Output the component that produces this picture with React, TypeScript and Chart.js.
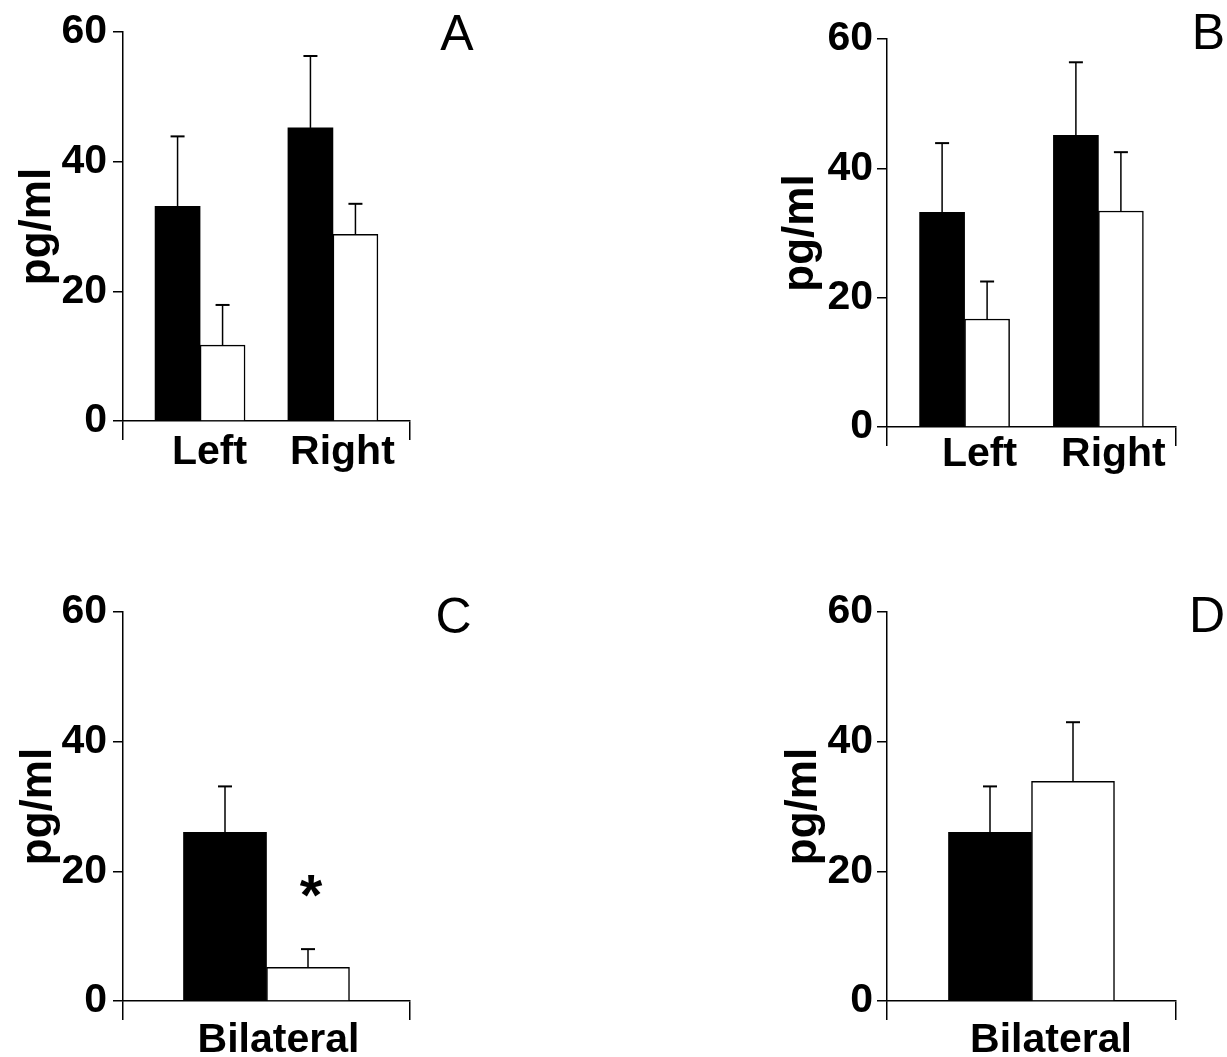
import React, { useEffect, useRef } from 'react';
import { Chart, registerables } from 'chart.js';

Chart.register(...registerables);

// ---------- data ----------
const sidesAB = ['Left', 'Right'];
const sidesCD = ['Bilateral'];
const yTickValues = [0, 20, 40, 60];

const aFilled = [33.1, 45.2];
const aFilledErr = [10.8, 11.1];
const aOpen = [11.7, 28.8];
const aOpenErr = [6.2, 4.7];

const bFilled = [33.2, 45.1];
const bFilledErr = [10.7, 11.3];
const bOpen = [16.7, 33.4];
const bOpenErr = [5.8, 9.1];

const cFilled = [26.0];
const cFilledErr = [7.1];
const cOpen = [5.2];
const cOpenErr = [2.8];
const cOpenSignificant = [true];

const dFilled = [26.0];
const dFilledErr = [7.1];
const dOpen = [33.9];
const dOpenErr = [9.1];

const FONT = "'Liberation Sans', Arial, Helvetica, sans-serif";

interface PanelSpec {
  letter: string;
  categories: string[];
  filled: number[];
  filledErr: number[];
  open: number[];
  openErr: number[];
  openStars?: boolean[];
  left: number;
  top: number;
  w: number;
  h: number;
  yWidth: number;
  yPad: number;
  padTop: number;
  padRight: number;
  xHeight: number;
  xMin: number;
  xMax: number;
  barTh: number;
  labelOffset: number;
  labelPad: number;
  titlePad: number;
  letterX: number;
  letterY: number;
}

const panels: PanelSpec[] = [
  {
    letter: 'A', categories: sidesAB, filled: aFilled, filledErr: aFilledErr, open: aOpen, openErr: aOpenErr,
    left: 0, top: 0, w: 480, h: 480, yWidth: 123, yPad: 6, padTop: 32, padRight: 70, xHeight: 59,
    xMin: 0.42, xMax: 2.58, barTh: 45, labelOffset: 9.5, labelPad: -11.5, titlePad: 11.5, letterX: 457, letterY: 50,
  },
  {
    letter: 'B', categories: sidesAB, filled: bFilled, filledErr: bFilledErr, open: bOpen, openErr: bOpenErr,
    left: 760, top: 0, w: 467, h: 490, yWidth: 127, yPad: 4, padTop: 39, padRight: 51, xHeight: 63,
    xMin: 0.42, xMax: 2.58, barTh: 45, labelOffset: 15, labelPad: -15.5, titlePad: 14, letterX: 448.5, letterY: 49,
  },
  {
    letter: 'C', categories: sidesCD, filled: cFilled, filledErr: cFilledErr, open: cOpen, openErr: cOpenErr,
    openStars: cOpenSignificant,
    left: 0, top: 560, w: 480, h: 497, yWidth: 123, yPad: 6, padTop: 52, padRight: 70, xHeight: 56,
    xMin: 0, xMax: 2, barTh: 83, labelOffset: 12, labelPad: -4, titlePad: 12.5, letterX: 453.5, letterY: 72.5,
  },
  {
    letter: 'D', categories: sidesCD, filled: dFilled, filledErr: dFilledErr, open: dOpen, openErr: dOpenErr,
    left: 760, top: 560, w: 467, h: 497, yWidth: 127, yPad: 4, padTop: 52, padRight: 51, xHeight: 56,
    xMin: 0, xMax: 2, barTh: 83, labelOffset: 19.5, labelPad: -4, titlePad: 17, letterX: 447, letterY: 72,
  },
];

// ---------- plugins ----------
const errorBarPlugin = {
  id: 'errorBars',
  afterDatasetsDraw(chart: any) {
    const ctx = chart.ctx;
    const yScale = chart.scales.y;
    chart.data.datasets.forEach((ds: any, di: number) => {
      const meta = chart.getDatasetMeta(di);
      meta.data.forEach((bar: any, i: number) => {
        const v = ds.data[i].y;
        const e = ds.errors[i];
        const yTop = yScale.getPixelForValue(v + e);
        ctx.save();
        ctx.strokeStyle = '#000';
        ctx.lineWidth = 1.5;
        ctx.beginPath();
        ctx.moveTo(bar.x, bar.y);
        ctx.lineTo(bar.x, yTop);
        ctx.stroke();
        ctx.lineWidth = 2;
        ctx.beginPath();
        ctx.moveTo(bar.x - 7, yTop);
        ctx.lineTo(bar.x + 7, yTop);
        ctx.stroke();
        if (ds.stars && ds.stars[i]) {
          ctx.fillStyle = '#000';
          ctx.font = `bold 58px ${FONT}`;
          ctx.textAlign = 'center';
          ctx.textBaseline = 'alphabetic';
          ctx.fillText('*', bar.x + 3, yTop - 34);
        }
        ctx.restore();
      });
    });
  },
};

const letterPlugin = {
  id: 'panelLetter',
  afterDraw(chart: any, _args: any, opts: any) {
    const ctx = chart.ctx;
    ctx.save();
    ctx.fillStyle = '#000';
    ctx.font = `normal 50px ${FONT}`;
    ctx.textAlign = 'center';
    ctx.textBaseline = 'alphabetic';
    ctx.fillText(opts.text, opts.x, opts.y);
    ctx.restore();
  },
};

function Panel({ spec }: { spec: PanelSpec }) {
  const ref = useRef<HTMLCanvasElement>(null);
  useEffect(() => {
    const tickLabels = ['', ...spec.categories, ''];
    const tickPositions = [spec.xMin, ...spec.categories.map((_, i) => i + 1), spec.xMax];
    const lastIdx = tickPositions.length - 1;
    const chart = new Chart(ref.current as HTMLCanvasElement, {
      type: 'bar',
      data: {
        datasets: [
          {
            label: 'Filled',
            data: spec.filled.map((v, i) => ({ x: i + 1, y: v })),
            errors: spec.filledErr,
            backgroundColor: '#000',
            borderColor: '#000',
            borderWidth: 0,
            barThickness: spec.barTh,
          } as any,
          {
            label: 'Open',
            data: spec.open.map((v, i) => ({ x: i + 1, y: v })),
            errors: spec.openErr,
            stars: spec.openStars,
            backgroundColor: '#fff',
            borderColor: '#000',
            borderWidth: 1.5,
            barThickness: spec.barTh,
          } as any,
        ],
      },
      options: {
        animation: false,
        responsive: false,
        events: [],
        layout: { padding: { left: 0, top: spec.padTop, right: spec.padRight, bottom: 0 } },
        plugins: {
          legend: { display: false },
          tooltip: { enabled: false },
          panelLetter: { text: spec.letter, x: spec.letterX, y: spec.letterY },
        } as any,
        scales: {
          x: {
            type: 'linear',
            offset: false,
            min: spec.xMin,
            max: spec.xMax,
            afterBuildTicks: (scale: any) => {
              scale.ticks = tickPositions.map((value) => ({ value }));
            },
            afterFit: (scale: any) => {
              scale.height = spec.xHeight;
            },
            ticks: {
              autoSkip: false,
              maxRotation: 0,
              minRotation: 0,
              labelOffset: spec.labelOffset,
              padding: spec.labelPad,
              color: '#000',
              font: { family: FONT, size: 41, weight: 'bold' },
              callback: (_v: any, idx: number) => tickLabels[idx],
            },
            grid: {
              offset: false,
              drawOnChartArea: false,
              drawTicks: true,
              tickLength: 19,
              lineWidth: 1.5,
              color: (c: any) => (c.index === 0 || c.index === lastIdx ? '#000' : 'rgba(0,0,0,0)'),
            },
            border: { display: true, color: '#000', width: 1.5 },
          },
          y: {
            type: 'linear',
            min: 0,
            max: 60,
            afterBuildTicks: (scale: any) => {
              scale.ticks = yTickValues.map((value) => ({ value }));
            },
            afterFit: (scale: any) => {
              scale.width = spec.yWidth;
            },
            ticks: {
              padding: spec.yPad,
              color: '#000',
              font: { family: FONT, size: 41, weight: 'bold' },
            },
            grid: {
              drawOnChartArea: false,
              drawTicks: true,
              tickLength: 10,
              lineWidth: 1.5,
              color: '#000',
            },
            border: { display: true, color: '#000', width: 1.5 },
            title: {
              display: true,
              text: 'pg/ml',
              color: '#000',
              font: { family: FONT, size: 44, weight: 'bold' },
              padding: { top: spec.titlePad, bottom: 0 },
            },
          },
        },
      } as any,
      plugins: [errorBarPlugin, letterPlugin] as any,
    });
    return () => chart.destroy();
  }, []);
  return (
    <canvas
      ref={ref}
      width={spec.w}
      height={spec.h}
      style={{ position: 'absolute', left: spec.left, top: spec.top, width: spec.w, height: spec.h }}
    />
  );
}

export default function App() {
  return (
    <div style={{ position: 'absolute', left: 0, top: 0, width: 1227, height: 1057, background: '#fff', overflow: 'hidden' }}>
      {panels.map((p) => (
        <Panel key={p.letter} spec={p} />
      ))}
    </div>
  );
}
